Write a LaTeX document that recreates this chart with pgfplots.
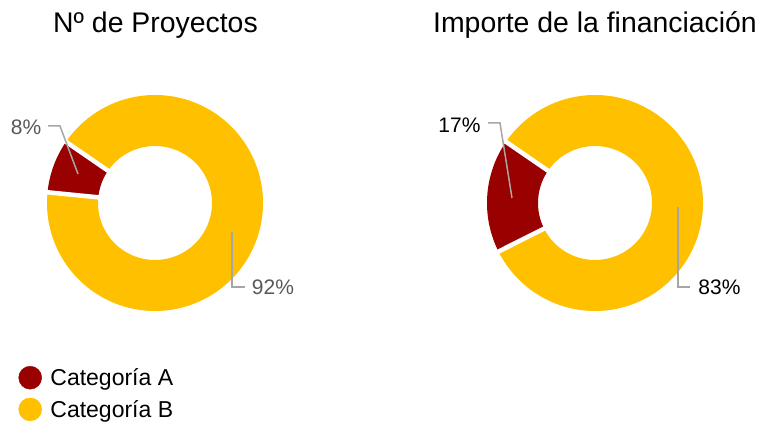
\documentclass[border=0pt]{standalone}
\usepackage{fontspec}
\setmainfont{Liberation Sans}
\usepackage{pgfplots}
\usepackage{pgfplotstable}
\pgfplotsset{compat=1.18}
\definecolor{cA}{HTML}{990000}
\definecolor{cB}{HTML}{FFC000}
\definecolor{lead}{HTML}{A6A6A6}
\definecolor{lbl}{HTML}{595959}
\pgfplotstableread{
grafico A B
Proyectos 8 92
Importe 17 83
}\datos
\pgfplotstablegetelem{0}{A}\of\datos \edef\pLA{\pgfplotsretval}
\pgfplotstablegetelem{0}{B}\of\datos \edef\pLB{\pgfplotsretval}
\pgfplotstablegetelem{1}{A}\of\datos \edef\pRA{\pgfplotsretval}
\pgfplotstablegetelem{1}{B}\of\datos \edef\pRB{\pgfplotsretval}
\pgfmathsetmacro{\st}{145.5}
\pgfmathsetmacro{\eLA}{\st+3.6*\pLA}
\pgfmathsetmacro{\eLB}{\eLA+3.6*\pLB}
\pgfmathsetmacro{\eRA}{\st+3.6*\pRA}
\pgfmathsetmacro{\eRB}{\eRA+3.6*\pRB}
\begin{document}
\begin{tikzpicture}
\begin{axis}[
  width=762pt, height=425pt, scale only axis,
  xmin=0, xmax=762, ymin=0, ymax=425,
  hide axis, clip=false,
  legend cell align=left,
  legend style={at={(axis cs:18.5,59)}, anchor=north west, draw=none, fill=none,
    inner sep=0pt, outer sep=0pt, row sep=8.3pt,
    nodes={inner sep=0pt, font=\fontsize{23}{27}\selectfont},
    /tikz/every odd column/.append style={column sep=8.5pt}},
]
\coordinate (bbBL) at (axis cs:0,0);
\coordinate (bbTR) at (axis cs:762,425);
% left donut
\addplot[forget plot, draw=cA, line width=51pt, domain=\st:\eLA, samples=40, variable=\t]
  ({155+82.5*cos(\t)},{222+82.5*sin(\t)});
\addplot[forget plot, draw=cB, line width=51pt, domain=\eLA:\eLB, samples=240, variable=\t]
  ({155+82.5*cos(\t)},{222+82.5*sin(\t)});
\addplot[forget plot, draw=white, line width=4.5pt, domain=54:111, samples=2, variable=\r]
  ({155+\r*cos(\st)},{222+\r*sin(\st)});
\addplot[forget plot, draw=white, line width=4.5pt, domain=54:111, samples=2, variable=\r]
  ({155+\r*cos(\eLA)},{222+\r*sin(\eLA)});
% right donut
\addplot[forget plot, draw=cA, line width=51pt, domain=\st:\eRA, samples=60, variable=\t]
  ({595+82.5*cos(\t)},{222+82.5*sin(\t)});
\addplot[forget plot, draw=cB, line width=51pt, domain=\eRA:\eRB, samples=240, variable=\t]
  ({595+82.5*cos(\t)},{222+82.5*sin(\t)});
\addplot[forget plot, draw=white, line width=4.5pt, domain=54:111, samples=2, variable=\r]
  ({595+\r*cos(\st)},{222+\r*sin(\st)});
\addplot[forget plot, draw=white, line width=4.5pt, domain=54:111, samples=2, variable=\r]
  ({595+\r*cos(\eRA)},{222+\r*sin(\eRA)});
% leader lines
\addplot[forget plot, draw=lead, line width=1.5pt] coordinates {(48,299) (60,299) (78,251)};
\addplot[forget plot, draw=lead, line width=1.5pt] coordinates {(232,193) (232,138) (245,138)};
\addplot[forget plot, draw=lead, line width=1.5pt] coordinates {(488,302) (500,302) (512,227)};
\addplot[forget plot, draw=lead, line width=1.5pt] coordinates {(678,218) (678,138) (690,138)};
% labels
\node[anchor=base, text=lbl, font=\fontsize{21}{25}\selectfont] at (axis cs:26,290) {\pLA\%};
\node[anchor=base, text=lbl, font=\fontsize{21}{25}\selectfont] at (axis cs:273,130) {\pLB\%};
\node[anchor=base, text=black, font=\fontsize{21}{25}\selectfont] at (axis cs:459.5,292.7) {\pRA\%};
\node[anchor=base, text=black, font=\fontsize{21}{25}\selectfont] at (axis cs:719.5,130) {\pRB\%};
% titles
\node[anchor=base, font=\fontsize{28.4}{33}\selectfont] at (axis cs:155.5,392.5) {Nº de Proyectos};
\node[anchor=base, font=\fontsize{28.4}{33}\selectfont] at (axis cs:595,392.5) {Importe de la financiación};
% legend
\addlegendimage{legend image code/.code={\fill[cA] (11.5pt,0pt) circle (11.5pt);}}
\addlegendentry{Categoría A}
\addlegendimage{legend image code/.code={\fill[cB] (11.5pt,0pt) circle (11.5pt);}}
\addlegendentry{Categoría B}
\end{axis}
\pgfresetboundingbox
\path[use as bounding box] (bbBL) rectangle (bbTR);
\end{tikzpicture}%
\end{document}
